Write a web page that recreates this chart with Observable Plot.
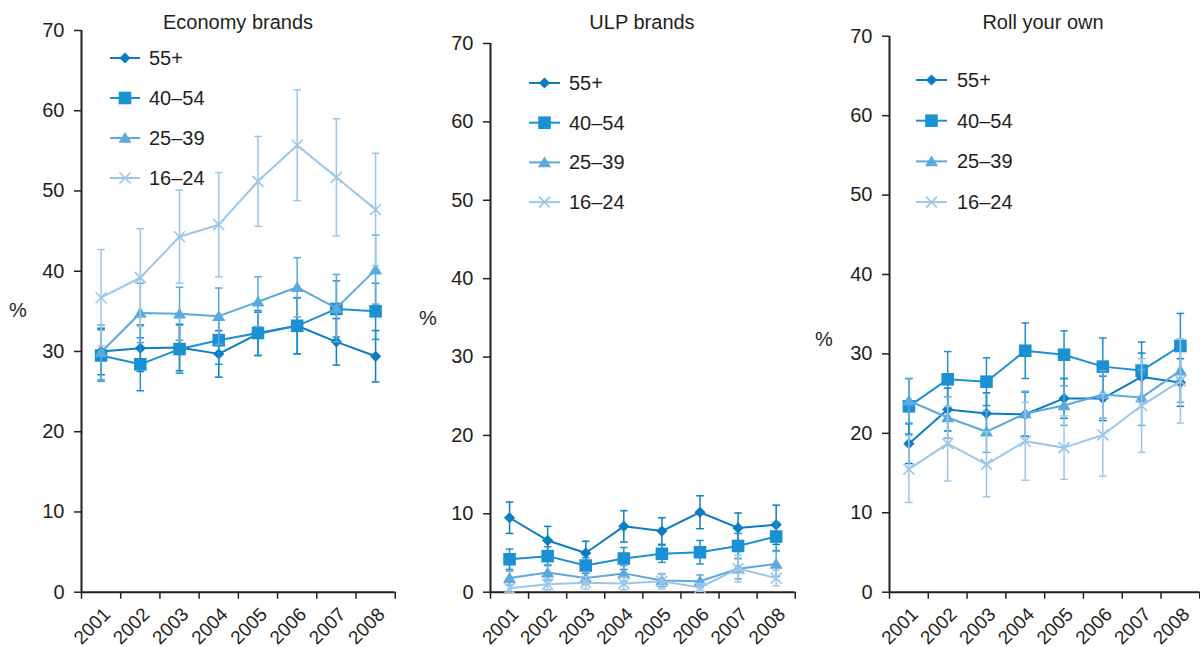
<!DOCTYPE html>
<html><head><meta charset="utf-8">
<script src="https://cdn.jsdelivr.net/npm/d3@7"></script>
<script src="https://cdn.jsdelivr.net/npm/@observablehq/plot@0.6"></script>
<style>
body{margin:0;background:#fff;}
#root{position:relative;width:1200px;height:647px;overflow:hidden;font-family:"Liberation Sans",Arial,Helvetica,sans-serif;color:#231f20;}
.panel{position:absolute;top:0;}
.panel svg text{font-size:19px !important;font-family:"Liberation Sans",Arial,Helvetica,sans-serif !important;}
.panel svg g[aria-label="y-axis tick label"] text{font-size:20px !important;}
.title{position:absolute;font-size:20px;transform:translate(-50%,-50%);white-space:nowrap;}
.pct{position:absolute;font-size:20px;transform:translate(-50%,-50%);}
.legend{position:absolute;left:0;top:0;overflow:visible;}
</style></head><body><div id="root"></div>
<script>
const years = [2001, 2002, 2003, 2004, 2005, 2006, 2007, 2008];
const groups = ["55+", "40–54", "25–39", "16–24"];
const colors = ["#0b7dc3", "#1b91d3", "#5ba9dd", "#9cc6e9"];
const panelTitles = ["Economy brands", "ULP brands", "Roll your own"];
const yTicks = [0, 10, 20, 30, 40, 50, 60, 70];

// Economy brands
const econ55 = [30.0, 30.4, 30.5, 29.7, 32.2, 33.2, 31.2, 29.4];
const econ55Err = [2.9, 2.9, 2.9, 2.9, 2.7, 3.5, 2.9, 3.2];
const econ40 = [29.5, 28.4, 30.3, 31.4, 32.3, 33.2, 35.3, 35.0];
const econ40Err = [3.2, 3.3, 3.0, 3.0, 2.8, 3.5, 3.5, 3.5];
const econ25 = [29.9, 34.8, 34.7, 34.4, 36.2, 38.0, 35.4, 40.2];
const econ25Err = [3.4, 3.7, 3.3, 3.5, 3.1, 3.7, 4.2, 4.3];
const econ16 = [36.7, 39.2, 44.3, 45.8, 51.2, 55.7, 51.7, 47.7];
const econ16Err = [6.0, 6.1, 5.8, 6.5, 5.6, 6.9, 7.3, 7.0];

// ULP brands
const ulp55 = [9.5, 6.6, 5.0, 8.4, 7.8, 10.2, 8.2, 8.6];
const ulp55Err = [2.0, 1.8, 1.5, 2.0, 1.7, 2.1, 1.9, 2.5];
const ulp40 = [4.2, 4.6, 3.4, 4.3, 4.9, 5.1, 5.9, 7.1];
const ulp40Err = [1.3, 1.2, 1.0, 1.4, 1.1, 1.5, 1.6, 1.8];
const ulp25 = [1.8, 2.5, 1.8, 2.4, 1.5, 1.4, 3.0, 3.6];
const ulp25Err = [0.9, 1.0, 0.8, 1.0, 0.8, 0.8, 1.3, 1.6];
const ulp16 = [0.5, 1.0, 1.2, 1.1, 1.4, 0.6, 3.0, 1.8];
const ulp16Err = [0.5, 0.7, 0.8, 0.8, 1.0, 0.5, 1.7, 1.0];

// Roll your own
const ryo55 = [18.7, 23.0, 22.5, 22.4, 24.4, 24.4, 27.1, 26.4];
const ryo55Err = [2.5, 2.7, 2.6, 2.8, 2.5, 2.8, 3.0, 3.0];
const ryo40 = [23.4, 26.8, 26.5, 30.4, 29.9, 28.4, 27.9, 31.0];
const ryo40Err = [3.5, 3.5, 3.0, 3.5, 3.0, 3.6, 3.6, 4.1];
const ryo25 = [24.1, 22.0, 20.2, 22.5, 23.5, 24.9, 24.5, 27.9];
const ryo25Err = [2.8, 2.6, 2.6, 2.8, 2.5, 3.0, 3.5, 4.0];
const ryo16 = [15.5, 18.7, 16.1, 19.0, 18.2, 19.8, 23.5, 26.6];
const ryo16Err = [4.2, 4.7, 4.1, 4.9, 4.0, 5.2, 5.9, 5.3];

// symbols (size = r*r*PI as passed by Plot)
const rad = s => Math.sqrt(s / Math.PI);
const sym = {
  diamond: {draw(c, s) { const r = rad(s); c.moveTo(0, -r); c.lineTo(r, 0); c.lineTo(0, r); c.lineTo(-r, 0); c.closePath(); }},
  square: {draw(c, s) { const r = rad(s); c.rect(-r, -r, 2 * r, 2 * r); }},
  triangle: {draw(c, s) { const r = rad(s); c.moveTo(0, -r); c.lineTo(r * 1.1, r * 0.8); c.lineTo(-r * 1.1, r * 0.8); c.closePath(); }},
  times: {draw(c, s) { const r = rad(s); c.moveTo(-r, -r); c.lineTo(r, r); c.moveTo(r, -r); c.lineTo(-r, r); }},
  cap: {draw(c, s) { const r = rad(s); c.moveTo(-r, 0); c.lineTo(r, 0); }}
};
const markerSyms = [sym.diamond, sym.square, sym.triangle, sym.times];
const markerR = [5.6, 6.3, 6, 5.5];
const FONT = '"Liberation Sans", Arial, Helvetica, sans-serif';

const edges = d3.range(years[0] - 0.5, years[years.length - 1] + 1, 1);
const root = document.getElementById("root");

function makePanel(cfg) {
  const rows = groups.flatMap((g, gi) => years.map((year, i) => ({group: g, gi, year, value: cfg.series[gi][0][i], err: cfg.series[gi][1][i]})));
  const marks = [
    Plot.axisY({ticks: yTicks, tickSize: 7, tickPadding: 10, strokeWidth: 1.5, label: null}),
    Plot.axisX({ticks: edges, tickSize: 7, tickFormat: () => "", strokeWidth: 1.5, label: null}),
    Plot.axisX({ticks: years, tickSize: 0, tickRotate: -45, tickPadding: 9, dx: 6, dy: 10, tickFormat: d => String(d), label: null}),
    Plot.ruleX([edges[0]], {strokeWidth: 2}),
    Plot.ruleY([0], {strokeWidth: 2})
  ];
  groups.forEach((g, gi) => {
    const d = rows.filter(r => r.gi === gi);
    const c = colors[gi];
    marks.push(Plot.ruleX(d, {x: "year", y1: r => Math.max(0, r.value - r.err), y2: r => r.value + r.err, stroke: c, strokeWidth: 1.5}));
    marks.push(Plot.dot(d, {x: "year", y: r => Math.max(0, r.value - r.err), symbol: sym.cap, r: 3.8, stroke: c, fill: "none", strokeWidth: 1.5}));
    marks.push(Plot.dot(d, {x: "year", y: r => r.value + r.err, symbol: sym.cap, r: 3.8, stroke: c, fill: "none", strokeWidth: 1.5}));
    marks.push(Plot.line(d, {x: "year", y: "value", stroke: c, strokeWidth: 2}));
    marks.push(Plot.dot(d, {x: "year", y: "value", symbol: markerSyms[gi], r: markerR[gi], fill: c, stroke: c, strokeWidth: gi === 3 ? 1.6 : 0}));
  });
  const svg = Plot.plot({
    width: cfg.width, height: 647,
    marginLeft: cfg.marginLeft, marginRight: cfg.marginRight, marginTop: cfg.marginTop, marginBottom: 55.3,
    x: {type: "linear", domain: [edges[0], edges[edges.length - 1]]},
    y: {domain: [0, 70]},
    style: {color: "#231f20", background: "transparent", overflow: "visible"},
    marks
  });
  const wrap = document.createElement("div");
  wrap.className = "panel";
  wrap.style.left = cfg.left + "px";
  wrap.appendChild(svg);
  root.appendChild(wrap);

  const t = document.createElement("div");
  t.className = "title"; t.textContent = cfg.title;
  t.style.left = cfg.titleX + "px"; t.style.top = "22px";
  root.appendChild(t);

  const p = document.createElement("div");
  p.className = "pct"; p.textContent = "%";
  p.style.left = cfg.pct[0] + "px"; p.style.top = cfg.pct[1] + "px";
  root.appendChild(p);

  // legend
  const lg = d3.select(root).append("svg").attr("class", "legend").attr("width", 1200).attr("height", 647);
  const [lx0, lx1, tx, ly0, dy] = cfg.legend;
  groups.forEach((g, gi) => {
    const y = ly0 + gi * dy;
    lg.append("line").attr("x1", lx0).attr("x2", lx1).attr("y1", y).attr("y2", y).attr("stroke", colors[gi]).attr("stroke-width", 2);
    const pth = d3.path(); markerSyms[gi].draw(pth, markerR[gi] * markerR[gi] * Math.PI);
    lg.append("path").attr("d", pth.toString()).attr("transform", `translate(${(lx0 + lx1) / 2},${y})`)
      .attr("fill", colors[gi]).attr("stroke", colors[gi]).attr("stroke-width", gi === 3 ? 1.6 : 0);
    lg.append("text").attr("x", tx).attr("y", y).attr("dy", "0.35em").attr("fill", "#231f20")
      .style("font-size", "20px").style("font-family", FONT).text(g);
  });
}

makePanel({left: 0, width: 400, marginLeft: 81, marginRight: 5.3, marginTop: 30, title: panelTitles[0], titleX: 238, pct: [18, 310],
  legend: [110, 140, 149, 58, 40],
  series: [[econ55, econ55Err], [econ40, econ40Err], [econ25, econ25Err], [econ16, econ16Err]]});
makePanel({left: 400, width: 400, marginLeft: 90, marginRight: 5.3, marginTop: 43, title: panelTitles[1], titleX: 642, pct: [428, 318],
  legend: [529, 560, 569, 83, 39.7],
  series: [[ulp55, ulp55Err], [ulp40, ulp40Err], [ulp25, ulp25Err], [ulp16, ulp16Err]]});
makePanel({left: 800, width: 400, marginLeft: 89, marginRight: 0.7, marginTop: 35.7, title: panelTitles[2], titleX: 1043, pct: [824, 339],
  legend: [916, 947, 957, 80, 40.7],
  series: [[ryo55, ryo55Err], [ryo40, ryo40Err], [ryo25, ryo25Err], [ryo16, ryo16Err]]});
</script>
</body></html>
